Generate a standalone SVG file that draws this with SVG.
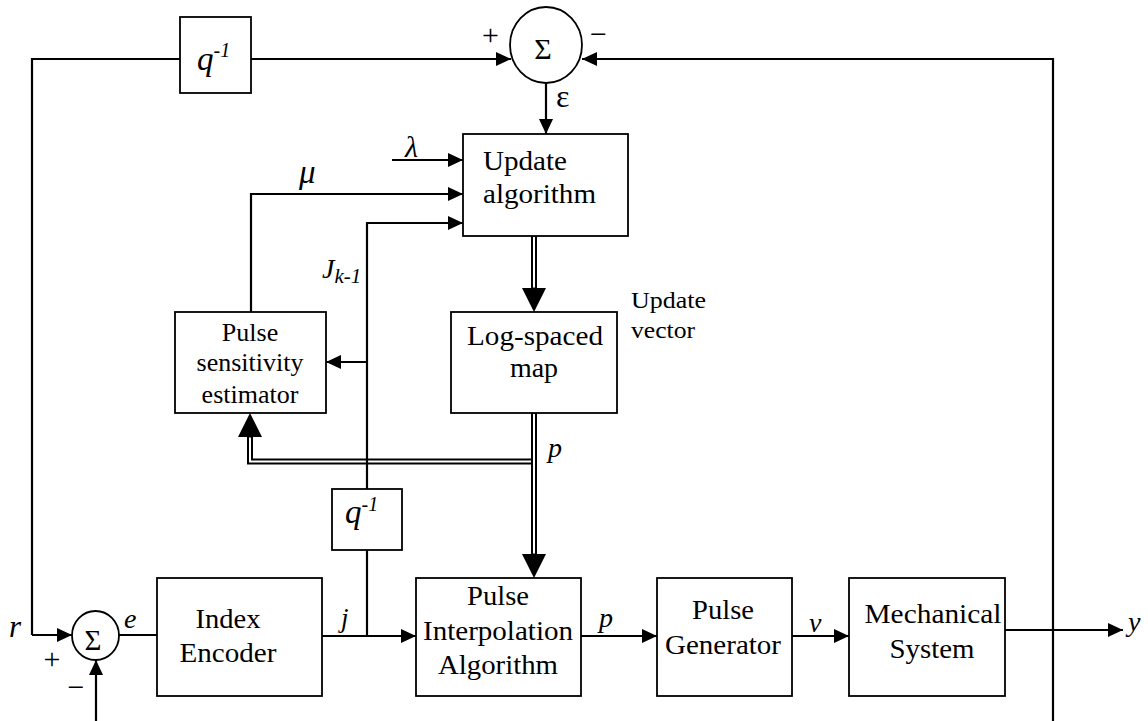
<svg xmlns="http://www.w3.org/2000/svg" width="1148" height="721" viewBox="0 0 1148 721">
<style>
.t{font-family:"Liberation Serif","Times New Roman",serif;fill:#000}
.it{font-style:italic}
.box{fill:#fff;stroke:#000;stroke-width:1.8}
.ln{fill:none;stroke:#000;stroke-width:2.2}
.dbo{fill:none;stroke:#000;stroke-width:6}
.dbi{fill:none;stroke:#fff;stroke-width:2}
</style>
<defs>
<marker id="ah" markerUnits="userSpaceOnUse" markerWidth="15" markerHeight="14" viewBox="0 0 15 14" refX="15" refY="7" orient="auto"><path d="M0,0 L15,7 L0,14 z" fill="#000"/></marker>
<marker id="bh" markerUnits="userSpaceOnUse" markerWidth="24" markerHeight="24" viewBox="0 -12 24 24" refX="0" refY="0" orient="auto" overflow="visible"><path d="M0,-12 L24,0 L0,12 z" fill="#000"/></marker>
</defs>
<rect width="1148" height="721" fill="#fff"/>

<g id="connectors">
<path class="ln" d="M32,635 L32,59 L180,59"/>
<path class="ln" d="M32,635 L72,635" marker-end="url(#ah)"/>
<path class="ln" d="M251,59 L511,59" marker-end="url(#ah)"/>
<path class="ln" d="M1053,721 L1053,59 L582,59" marker-end="url(#ah)"/>
<path class="ln" d="M1005,630 L1123,630" marker-end="url(#ah)"/>
<path class="ln" d="M96,721 L96,660" marker-end="url(#ah)"/>
<path class="ln" d="M119,635 L157,635"/>
<path class="ln" d="M322,636 L416,636" marker-end="url(#ah)"/>
<path class="ln" d="M581,636 L657,636" marker-end="url(#ah)"/>
<path class="ln" d="M792,636 L849,636" marker-end="url(#ah)"/>
<path class="ln" d="M546,83 L546,134" marker-end="url(#ah)"/>
<path class="ln" d="M392,160 L463,160" marker-end="url(#ah)"/>
<path class="ln" d="M251,312 L251,194 L463,194" marker-end="url(#ah)"/>
<path class="dbo" d="M534,461.5 L250,461.5 L250,437" marker-end="url(#bh)"/>
<path class="dbo" d="M534,236 L534,288" marker-end="url(#bh)"/>
<path class="dbo" d="M534,413 L534,554" marker-end="url(#bh)"/>
<path class="dbi" d="M531,461.5 L250,461.5 L250,437.5"/>
<path class="dbi" d="M534,237 L534,287.5"/>
<path class="dbi" d="M534,414 L534,553.5"/>
<path class="ln" d="M367,636 L367,550"/>
<path class="ln" d="M367,489 L367,223 L463,223" marker-end="url(#ah)"/>
<path class="ln" d="M367,362 L326,362" marker-end="url(#ah)"/>
</g>

<g id="sum-top">
<ellipse cx="546" cy="45" rx="36" ry="38" fill="#fff" stroke="#000" stroke-width="1.8"/>
<text class="t" x="543" y="58.5" font-size="30" text-anchor="middle">Σ</text>
<text class="t" x="490.5" y="45" font-size="30" text-anchor="middle">+</text>
<text class="t" x="598.5" y="44" font-size="30" text-anchor="middle">−</text>
</g>
<g id="sum-bottom">
<ellipse cx="95.5" cy="635.5" rx="23.5" ry="24.5" fill="#fff" stroke="#000" stroke-width="1.8"/>
<text class="t" x="93" y="649.5" font-size="29" text-anchor="middle">Σ</text>
<text class="t" x="52" y="669" font-size="30" text-anchor="middle">+</text>
<text class="t" x="76" y="697" font-size="30" text-anchor="middle">−</text>
</g>
<g id="delay-top">
<rect class="box" x="180" y="17" width="71" height="76"/>
<text class="t it" x="197" y="70" font-size="33">q<tspan font-size="20" dy="-13">-1</tspan></text>
</g>
<g id="delay-j">
<rect class="box" x="332" y="489" width="70" height="61"/>
<text class="t it" x="345" y="523" font-size="33">q<tspan font-size="20" dy="-12">-1</tspan></text>
</g>
<g id="update">
<rect class="box" x="463" y="134" width="165" height="102"/>
<text class="t" x="483" y="170" font-size="28" textLength="84" lengthAdjust="spacingAndGlyphs">Update</text>
<text class="t" x="483" y="203" font-size="28" textLength="113" lengthAdjust="spacingAndGlyphs">algorithm</text>
</g>
<g id="logmap">
<rect class="box" x="451" y="312" width="166" height="101"/>
<text class="t" x="535" y="345" font-size="28" text-anchor="middle" textLength="136" lengthAdjust="spacingAndGlyphs">Log-spaced</text>
<text class="t" x="534" y="377" font-size="28" text-anchor="middle">map</text>
</g>
<g id="update-vector-label">
<text class="t" x="631" y="308" font-size="24" textLength="75" lengthAdjust="spacingAndGlyphs">Update</text>
<text class="t" x="631" y="338" font-size="24" textLength="64" lengthAdjust="spacingAndGlyphs">vector</text>
</g>
<g id="sensitivity">
<rect class="box" x="175" y="312" width="151" height="101"/>
<text class="t" x="250" y="341" font-size="26" text-anchor="middle">Pulse</text>
<text class="t" x="250" y="371" font-size="26" text-anchor="middle">sensitivity</text>
<text class="t" x="250" y="403" font-size="26" text-anchor="middle">estimator</text>
</g>
<g id="encoder">
<rect class="box" x="157" y="578" width="165" height="118"/>
<text class="t" x="228" y="628" font-size="28" text-anchor="middle" textLength="65" lengthAdjust="spacingAndGlyphs">Index</text>
<text class="t" x="228" y="662" font-size="28" text-anchor="middle" textLength="97" lengthAdjust="spacingAndGlyphs">Encoder</text>
</g>
<g id="interp">
<rect class="box" x="416" y="578" width="165" height="118"/>
<text class="t" x="498" y="605" font-size="28" text-anchor="middle" textLength="62" lengthAdjust="spacingAndGlyphs">Pulse</text>
<text class="t" x="498" y="640" font-size="28" text-anchor="middle" textLength="150" lengthAdjust="spacingAndGlyphs">Interpolation</text>
<text class="t" x="498" y="674" font-size="28" text-anchor="middle" textLength="120" lengthAdjust="spacingAndGlyphs">Algorithm</text>
</g>
<g id="generator">
<rect class="box" x="657" y="578" width="135" height="118"/>
<text class="t" x="723" y="619" font-size="28" text-anchor="middle" textLength="62" lengthAdjust="spacingAndGlyphs">Pulse</text>
<text class="t" x="723" y="654" font-size="28" text-anchor="middle" textLength="116" lengthAdjust="spacingAndGlyphs">Generator</text>
</g>
<g id="mechanical">
<rect class="box" x="849" y="578" width="156" height="118"/>
<text class="t" x="933" y="623" font-size="28" text-anchor="middle" textLength="137" lengthAdjust="spacingAndGlyphs">Mechanical</text>
<text class="t" x="932" y="658" font-size="28" text-anchor="middle" textLength="85" lengthAdjust="spacingAndGlyphs">System</text>
</g>
<g id="labels">
<text class="t" x="556" y="107" font-size="32">ε</text>
<text class="t it" x="405" y="157" font-size="30">λ</text>
<text class="t it" x="299" y="183" font-size="33">μ</text>
<text class="t it" x="322" y="278" font-size="28">J<tspan font-size="21" dy="5">k-1</tspan></text>
<text class="t it" x="548" y="457" font-size="28">p</text>
<text class="t it" x="9" y="637" font-size="31">r</text>
<text class="t it" x="124" y="628" font-size="28">e</text>
<text class="t it" x="341" y="627" font-size="27">j</text>
<text class="t it" x="599" y="627" font-size="28">p</text>
<text class="t it" x="809" y="632" font-size="28">v</text>
<text class="t it" x="1128" y="631" font-size="28">y</text>
</g>
</svg>
